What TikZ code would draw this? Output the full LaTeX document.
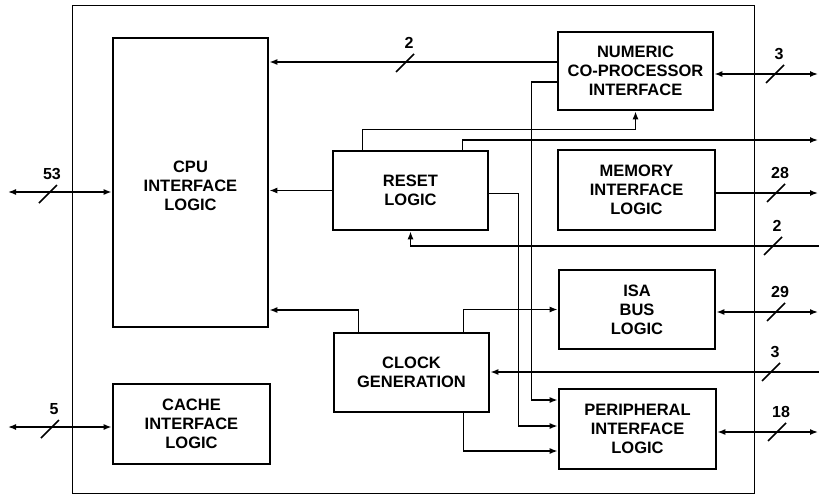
\documentclass[tikz,border=0pt]{standalone}
\usepackage{fontspec}
\setsansfont{Liberation Sans}
\usetikzlibrary{arrows.meta,positioning}

\begin{document}
\begin{tikzpicture}[x=1pt,y=-1pt]
				\tikzstyle{Block}	= [draw, line width=2.6pt, align=center, inner sep=0pt, font=\sffamily\bfseries\fontsize{16.5}{19}\selectfont]
				\tikzstyle{Wire}	= [line width=1.5pt]
				\tikzstyle{Arr}		= [Wire, -{Latex[length=8pt,width=6pt]}]
				\tikzstyle{Both}	= [Wire, {Latex[length=8pt,width=6pt]}-{Latex[length=8pt,width=6pt]}]
				\tikzstyle{Width}	= [font=\sffamily\bfseries\fontsize{16}{19}\selectfont, inner sep=0pt]
				\tikzset{busmark/.pic={\draw[Wire] (-9,9) -- (9,-9); \node[Width] at (4,-20) {\tikzpictext};}}

				\useasboundingbox (0,0) rectangle (819,495);
				\draw[line width=1pt] (72,6) rectangle (754,493);

				% blocks
				\node (cpu) at (190.5,182.5) [Block, minimum width=155, minimum height=289] {\\CPU\\INTERFACE\\LOGIC};
				\node (cache) at (191.5,424) [Block, minimum width=157, minimum height=80] {CACHE\\INTERFACE\\LOGIC};
				\node (reset) at (410.5,190.5) [Block, minimum width=155, minimum height=79] {RESET\\LOGIC};
				\node (clock) at (411.5,372.5) [Block, minimum width=155, minimum height=79] {CLOCK\\GENERATION};
				\node (numeric) at (635.5,71) [Block, minimum width=155, minimum height=78] {NUMERIC\\CO-PROCESSOR\\INTERFACE};
				\node (memory) at (636.5,190) [Block, minimum width=157, minimum height=80] {MEMORY\\INTERFACE\\LOGIC};
				\node (isa) at (637,309.5) [Block, minimum width=156, minimum height=79] {ISA\\BUS\\LOGIC};
				\node (periph) at (637.5,429) [Block, minimum width=157, minimum height=80] {PERIPHERAL\\INTERFACE\\LOGIC};

				% pins at the edges
				\coordinate (cpuPins) at (8,192);
				\coordinate (cachePins) at (8,427);
				\coordinate (npxPins) at (818,74);
				\coordinate (resetOut) at (818,140);
				\coordinate (memPins) at (818,193);
				\coordinate (resetIn) at (819,246);
				\coordinate (isaPins) at (818,312);
				\coordinate (clockIn) at (819,372);
				\coordinate (periphPins) at (818,432);

				% connectors
				\draw[Both] (cpuPins) -- (cpuPins -| cpu.west);
				\draw[Both] (cachePins) -- (cachePins -| cache.west);
				\draw[Arr] ([yshift=9pt]numeric.west) -- ([yshift=9pt]numeric.west -| cpu.east);
				\draw[Arr] (reset.west) -- (reset.west -| cpu.east);
				\draw[Arr] ([xshift=-53pt]clock.north) |- (cpu.east |- 0,310);
				\draw[Arr] ([xshift=-48pt]reset.north) |- ([yshift=-18pt]numeric.south) -- (numeric.south);
				\draw[Arr] ([xshift=52pt]reset.north) |- (resetOut);
				\draw[Both] (npxPins) -- (npxPins -| numeric.east);
				\draw[Arr] (memory.east |- memPins) -- (memPins);
				\draw[Arr] (resetIn) -| (reset.south);
				\draw[Arr] ([yshift=-3pt]reset.east) -- ++(29,0) |- ([yshift=3pt]periph.west);
				\draw[Arr] ([yshift=-11pt]numeric.west) -- ++(-25,0) |- ([yshift=29pt]periph.west);
				\draw[Arr] ([xshift=52pt]clock.north) |- (isa.west);
				\draw[Arr] ([xshift=52pt]clock.south) |- ([yshift=-22pt]periph.west);
				\draw[Arr] (clockIn) -- (clockIn -| clock.east);
				\draw[Both] (isaPins) -- (isaPins -| isa.east);
				\draw[Both] (periphPins) -- (periphPins -| periph.east);

				% bus widths
				\pic[pic text=53] at (48,194) {busmark};
				\pic[pic text=5] at (50,429) {busmark};
				\pic[pic text=2] at (405,63) {busmark};
				\pic[pic text=3] at (775,74) {busmark};
				\pic[pic text=28] at (776,193) {busmark};
				\pic[pic text=2] at (773,246) {busmark};
				\pic[pic text=29] at (776,312) {busmark};
				\pic[pic text=3] at (771,372) {busmark};
				\pic[pic text=18] at (777,432) {busmark};

			\end{tikzpicture}
\end{document}
